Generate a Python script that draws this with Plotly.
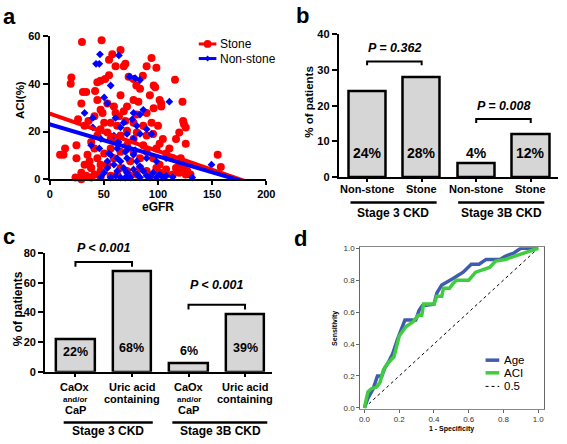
import plotly.graph_objects as go

W, H = 567, 444

# ---------------- data ----------------
# Panel a: ACI vs eGFR scatter
stone_egfr = [29.8, 47.9, 65.4, 57.8, 54.8, 94, 89.5, 98.5, 68.4, 69.9, 60.8, 54.8, 20, 19.4, 44, 47, 51.2,
              72.9, 77.4, 86, 80, 96, 97.4, 115.7, 41.9, 30.7, 33.7, 44, 29.2, 83.4, 92.5, 101.5, 103, 103,
              77.4, 81.9, 65.4, 71.4, 59.3, 53.3, 47, 48.8, 60.8, 63.9, 68.4, 80.4, 89.5, 96, 122.6, 123.2,
              124, 125.6, 119.6, 116.6, 41.3, 26.2, 35.8, 32.2, 14.2, 9.6, 12.7, 24.7, 24.7, 23.8, 29.2,
              155.1, 158, 121, 125.6, 110.5, 104.5, 101.5, 95.5, 89.5, 80.4, 71.4, 62.3, 53.3, 47, 44, 38.3,
              34.9, 32.2, 38.3, 41.3, 47, 53.3, 59.3, 65.4, 71.4, 77.4, 83.4, 89.5, 95.5, 101.5, 107.5, 113.6,
              119.6, 125.6, 130, 107.5, 98.5, 89.5, 80.4, 71.4, 62.3, 56.3, 47, 38.3, 65.4, 74.4, 83.4, 56.3,
              50.3, 44, 62.3, 77.4, 86.4, 98.5, 107.5, 113.6, 119.6, 94, 100, 86.4, 77.4, 69.9, 56.3, 50.3,
              56.3, 65.4, 41.3, 36.8, 47, 116.6, 124, 127, 101.5, 92.5, 74.4, 38.3, 33.7, 29.2]
stone_aci = [57.5, 58.3, 54.2, 52.4, 50.1, 50.8, 47.4, 46.7, 47.4, 48.4, 47.4, 43.6, 42.7, 40, 40.7, 41.3, 42,
             43, 42, 43.4, 39.3, 39.3, 38.6, 41.7, 37, 36.6, 36.6, 33.2, 31.8, 37.9, 35.2, 33.2, 31.8, 30.5,
             33.2, 32.5, 35.2, 30.5, 30.5, 31.8, 29.1, 27.8, 27.8, 26.4, 28.5, 27.1, 27.8, 29.8, 32.5, 24.4,
             23, 21.7, 19.6, 16.9, 26.4, 25.1, 24.4, 22.4, 12.9, 10.2, 10.2, 14.2, 8.8, 0.7, 2.7,
             10.2, 5.1, 8.8, 14.9, 12.9, 16.9, 14.9, 19, 18.3, 19.6, 20.3, 22.4, 19.6, 21, 18.3, 15.6,
             10.2, 6.1, 4.7, 2, 3.4, 6.1, 8.8, 11.5, 14.2, 11.5, 8.8, 11.5, 8.8, 6.1, 4.1, 2,
             2.7, 2, 2, 2, 4.7, 3.4, 2, 3.4, 2, 1.4, 0.9, 0.7, 4.7, 7.5, 4.7, 12.9,
             10.8, 8.8, 15.6, 16.9, 14.2, 12.9, 10.8, 8.8, 6.1, 23.7, 22.4, 22.4, 23.7, 24.4, 23.7, 23.7,
             16.9, 18.3, 12.9, 7.5, 6.1, 4.7, 4.1, 3.4, 2.7, 1.4, 1.4, 4.7, 1.4, 0]
non_egfr = [46.4, 42.8, 45.8, 63.9, 56.3, 73.8, 78.9, 83.4, 50.3, 53.3, 110.5, 86.4, 83.4, 77.4, 32.2, 39.8,
            60.8, 68.4, 76.2, 65.4, 80.4, 89.5, 94, 39.8, 47.3, 38.3, 59.3, 71.4, 77.4, 83.4, 45.8, 62.3,
            56.3, 62.3, 53.3, 59.3, 65.4, 71.4, 77.4, 80.4, 83.4, 89.5, 98.5, 107.5, 149.4, 53.3, 62.3, 68.4,
            71.4, 77.4, 80.4, 86.4, 89.5, 95.5, 101.5, 107.5, 113.6, 131.6, 47.3, 50.3, 56.3, 60.8, 65.4,
            69.9, 74.4, 83.4, 92.5, 98.5, 104.5, 54.8, 69.9, 63.6, 72.9, 78.9]
non_aci = [52.4, 48.4, 48.4, 51.9, 39.3, 43, 42.4, 41.6, 34.3, 31.8, 32.5, 29.1, 27.1, 27.8, 27.8, 25.7,
           25.7, 23.7, 25.1, 21.7, 22.4, 21, 19, 21.7, 16.9, 14.2, 18.3, 19, 16.9, 19, 12.9, 12.9,
           10.2, 8.8, 7.5, 6.1, 7.5, 8.8, 10.2, 7.5, 5.4, 8.8, 7.5, 8.8, 6.1, 4.7, 3.4, 4.7,
           2.7, 4.1, 2, 3.4, 1.4, 2.7, 2, 1.4, 0.9, 0.7, 0.9, 2.7, 0.7, 1.4, 0.7,
           0.7, 0.7, 0.7, 0.7, 0.7, 0.7, 10.8, 11.5, 15.6, 12.9, 12.2]
# regression lines (endpoints, extended past the axes)
fit_x = [-12, 200]
stone_fit = [29.4, -3.9]
non_fit = [24.6, -3.8]

# Panel b
b_groups = ["Non-stone", "Stone", "Non-stone", "Stone"]
b_values = [24, 28, 4, 12]
b_labels = ["24%", "28%", "4%", "12%"]
b_pvals = ["P = 0.362", "P = 0.008"]

# Panel c
c_groups = [["CaOx", "and/or", "CaP"], ["Uric acid", "containing"],
            ["CaOx", "and/or", "CaP"], ["Uric acid", "containing"]]
c_values = [22, 68, 6, 39]
c_labels = ["22%", "68%", "6%", "39%"]
c_pvals = ["P < 0.001", "P < 0.001"]
stages = ["Stage 3 CKD", "Stage 3B CKD"]

# Panel d: ROC curves
age_fpr = [0, 0.02, 0.05, 0.075, 0.1, 0.117, 0.135, 0.163, 0.19, 0.21, 0.233, 0.295, 0.314, 0.333, 0.4,
           0.417, 0.445, 0.51, 0.568, 0.615, 0.66, 0.7, 0.78, 0.81, 0.86, 0.9, 1.0]
age_tpr = [0, 0.06, 0.12, 0.2, 0.2, 0.25, 0.28, 0.34, 0.43, 0.49, 0.55, 0.55, 0.61, 0.64, 0.65,
           0.72, 0.77, 0.81, 0.85, 0.9, 0.9, 0.93, 0.93, 0.95, 0.97, 1.0, 1.0]
aci_fpr = [0, 0.013, 0.02, 0.04, 0.07, 0.09, 0.11, 0.135, 0.17, 0.2, 0.24, 0.28, 0.31, 0.33, 0.34, 0.4,
           0.417, 0.445, 0.455, 0.49, 0.51, 0.53, 0.6, 0.64, 0.72, 0.755, 0.81, 1.0]
aci_tpr = [0, 0.07, 0.1, 0.12, 0.13, 0.16, 0.24, 0.28, 0.32, 0.45, 0.51, 0.54, 0.58, 0.58, 0.65, 0.65,
           0.70, 0.70, 0.75, 0.75, 0.78, 0.80, 0.80, 0.85, 0.88, 0.92, 0.93, 1.0]
ref_x = [0, 1]
ref_y = [0, 1]

# ---------------- helpers ----------------
def px(x):
    return x / W

def py(y):
    return 1 - y / H

FONT = "Liberation Sans, Arial, sans-serif"
RED, BLUE = "#ff0000", "#0000ff"
AGE, ACI = "#3f5cae", "#40cc40"
BARFILL = "#d6d6d6"

fig = go.Figure()

# ---- panel a ----
fig.add_trace(go.Scatter(x=stone_egfr, y=stone_aci, mode="markers", xaxis="x", yaxis="y",
                         marker=dict(color=RED, size=8, symbol="circle"), cliponaxis=False, showlegend=False))
fig.add_trace(go.Scatter(x=non_egfr, y=non_aci, mode="markers", xaxis="x", yaxis="y",
                         marker=dict(color=BLUE, size=6, symbol="diamond"), cliponaxis=False, showlegend=False))
fig.add_trace(go.Scatter(x=fit_x, y=stone_fit, mode="lines", xaxis="x", yaxis="y",
                         line=dict(color=RED, width=4), showlegend=False))
fig.add_trace(go.Scatter(x=fit_x, y=non_fit, mode="lines", xaxis="x", yaxis="y",
                         line=dict(color=BLUE, width=4), showlegend=False))

# ---- panel b ----
pos = [0, 1, 2, 3]
fig.add_trace(go.Bar(x=pos, y=b_values, width=0.68, xaxis="x2", yaxis="y2",
                     marker=dict(color=BARFILL, line=dict(color="black", width=2.5)), showlegend=False))
# ---- panel c ----
fig.add_trace(go.Bar(x=pos, y=c_values, width=0.68, xaxis="x3", yaxis="y3",
                     marker=dict(color=BARFILL, line=dict(color="black", width=2.5)), showlegend=False))
# ---- panel d ----
fig.add_trace(go.Scatter(x=ref_x, y=ref_y, mode="lines", xaxis="x4", yaxis="y4",
                         line=dict(color="black", width=1, dash="dot"), showlegend=False))
fig.add_trace(go.Scatter(x=age_fpr, y=age_tpr, mode="lines", xaxis="x4", yaxis="y4",
                         line=dict(color=AGE, width=3.5), showlegend=False))
fig.add_trace(go.Scatter(x=aci_fpr, y=aci_tpr, mode="lines", xaxis="x4", yaxis="y4",
                         line=dict(color=ACI, width=3.5), showlegend=False))

bold_tick = dict(family=FONT, size=11, color="black", weight="bold")
ax_common = dict(showline=True, linecolor="black", linewidth=2, ticks="outside",
                 tickwidth=2, tickcolor="black", showgrid=False, zeroline=False,
                 tickfont=bold_tick)

layout = dict(
    width=W, height=H, autosize=False, margin=dict(l=0, r=0, t=0, b=0),
    paper_bgcolor="white", plot_bgcolor="rgba(0,0,0,0)", showlegend=False,
    font=dict(family=FONT),
    xaxis=dict(domain=[px(47.7), px(269)], range=[0, 200], anchor="y", ticklen=4,
               tickvals=[0, 50, 100, 150, 200], **ax_common),
    yaxis=dict(domain=[py(178), py(31)], range=[0, 60], anchor="x", ticklen=5,
               tickvals=[0, 20, 40, 60], **ax_common),
    xaxis2=dict(domain=[px(343), 1.0], range=[-0.52, 3.5], anchor="y2", tickvals=pos,
                showticklabels=False, ticklen=3, **ax_common),
    yaxis2=dict(domain=[py(176), py(29)], range=[0, 40], anchor="x2", ticklen=5,
                tickvals=[0, 10, 20, 30, 40], **ax_common),
    xaxis3=dict(domain=[px(43), px(275)], range=[-0.537, 3.48], anchor="y3", tickvals=pos,
                showticklabels=False, ticklen=3, **ax_common),
    yaxis3=dict(domain=[py(376), py(254)], range=[0, 80], anchor="x3", ticklen=5,
                tickvals=[0, 20, 40, 60, 80], **ax_common),
    xaxis4=dict(domain=[px(365), px(553)], range=[-0.024, 1.035], anchor="y4",
                tickvals=[0, 0.2, 0.4, 0.6, 0.8, 1.0], tickformat=".1f",
                showline=True, mirror=True, linecolor="#888", linewidth=1, ticks="outside",
                ticklen=3, tickcolor="#666", showgrid=False, zeroline=False,
                tickfont=dict(family=FONT, size=8, color="#333")),
    yaxis4=dict(domain=[py(414), py(248)], range=[-0.006, 1.006], anchor="x4",
                tickvals=[0, 0.2, 0.4, 0.6, 0.8, 1.0], tickformat=".1f",
                showline=True, mirror=True, linecolor="#666", linewidth=1, ticks="outside",
                ticklen=3, tickcolor="#666", showgrid=False, zeroline=False,
                tickfont=dict(family=FONT, size=8, color="#333")),
    bargap=0,
)
fig.update_layout(**layout)

ann = []
shapes = []

def text(x, y, s, size, bold=True, italic=False, xref="paper", yref="paper", xanchor="center",
         yanchor="middle", angle=0, color="black"):
    t = s
    if italic:
        t = "<i>" + t + "</i>"
    if bold:
        t = "<b>" + t + "</b>"
    ann.append(dict(x=x, y=y, xref=xref, yref=yref, text=t, showarrow=False, xanchor=xanchor,
                    yanchor=yanchor, textangle=angle, font=dict(family=FONT, size=size, color=color)))

# panel letters
text(px(7), py(11), "a", 22)
text(px(306), py(10), "b", 22)
text(px(6), py(237), "c", 22)
text(px(304), py(239), "d", 22)

# panel a titles + legend
text(px(18), py(97), "ACI(%)", 11.5, angle=-90)
text(px(158), py(207), "eGFR", 12)
for yy, col, name, sym in [(39, RED, "Stone", "circle"), (54, BLUE, "Non-stone", "diamond")]:
    shapes.append(dict(type="line", xref="paper", yref="paper", x0=px(200), x1=px(218), y0=py(yy),
                       y1=py(yy), line=dict(color=col, width=3)))
    if sym == "circle":
        shapes.append(dict(type="circle", xref="paper", yref="paper", x0=px(205), x1=px(213),
                           y0=py(yy + 4), y1=py(yy - 4), fillcolor=col, line=dict(color=col, width=0)))
    else:
        shapes.append(dict(type="path", xref="paper", yref="paper",
                           path=f"M {px(209)},{py(yy-3)} L {px(212)},{py(yy)} L {px(209)},{py(yy+3)} L {px(206)},{py(yy)} Z",
                           fillcolor=col, line=dict(color=col, width=0)))
    text(px(220), py(yy), name, 12, bold=False, xanchor="left")

# panel b annotations
text(px(313), py(98), "% of patients", 11.5, angle=-90)
for i, lab in enumerate(b_labels):
    text(pos[i], 6.8, lab, 14, xref="x2", yref="y2")
for i, g in enumerate(b_groups):
    text(pos[i], py(188), g, 11, xref="x2")
for (a0, a1), yb, ypx, p in [((0, 1), 32.4, 43, b_pvals[0]), ((2, 3), 16.3, 103, b_pvals[1])]:
    shapes.append(dict(type="path", xref="x2", yref="y2",
                       path=f"M {a0},{yb-1.1} L {a0},{yb} L {a1},{yb} L {a1},{yb-1.1}",
                       line=dict(color="black", width=2)))
    text((a0 + a1) / 2, py(ypx), p, 12.5, italic=True, xref="x2")
for (x0, x1), cx, s in [((355, 443), 398, stages[0]), ((465, 553), 509, stages[1])]:
    shapes.append(dict(type="line", xref="paper", yref="paper", x0=px(x0), x1=px(x1), y0=py(202),
                       y1=py(202), line=dict(color="black", width=2.5)))
    text(px(cx), py(213), s, 12)

# panel c annotations
text(px(15), py(311), "% of patients", 12, angle=-90)
for i, lab in enumerate(c_labels):
    text(pos[i], [13.1, 16.4, 13.8, 16.4][i], lab, 12.5, xref="x3", yref="y3")
line_y = [392, 404, 415]
for i, g in enumerate(c_groups):
    for j, s in enumerate(g):
        text(pos[i], py(line_y[j]), s, 8 if s == "and/or" else 11, xref="x3")
for (a0, a1), yb, ypx, p in [((0, 1), 74.1, 249, c_pvals[0]), ((2, 3), 45.2, 287, c_pvals[1])]:
    shapes.append(dict(type="path", xref="x3", yref="y3",
                       path=f"M {a0},{yb-3.2} L {a0},{yb} L {a1},{yb} L {a1},{yb-3.2}",
                       line=dict(color="black", width=2)))
    text((a0 + a1) / 2, py(ypx), p, 12.5, italic=True, xref="x3")
for (x0, x1), cx, s in [((62, 153), 107, stages[0]), ((173, 270), 222, stages[1])]:
    shapes.append(dict(type="line", xref="paper", yref="paper", x0=px(x0), x1=px(x1), y0=py(428),
                       y1=py(428), line=dict(color="black", width=2.5)))
    text(px(cx), py(437), s, 12)

# panel d titles + legend
text(px(339), py(331), "Sensitivity", 7, angle=-90)
text(px(458), py(435), "1 - Specificity", 7)
for yy, col, name, dash, wd in [(364, AGE, "Age", "solid", 3.5), (377, ACI, "ACI", "solid", 3.5),
                                (391, "black", "0.5", "dot", 1)]:
    shapes.append(dict(type="line", xref="paper", yref="paper", x0=px(493), x1=px(507), y0=py(yy),
                       y1=py(yy), line=dict(color=col, width=wd, dash=dash)))
    text(px(510), py(yy), name, 11.5, bold=False, xanchor="left")

fig.update_layout(annotations=ann, shapes=shapes)
fig.write_html("out.html", config={"displayModeBar": False},
               post_script="document.body.style.margin='0';document.body.style.overflow='hidden';")
